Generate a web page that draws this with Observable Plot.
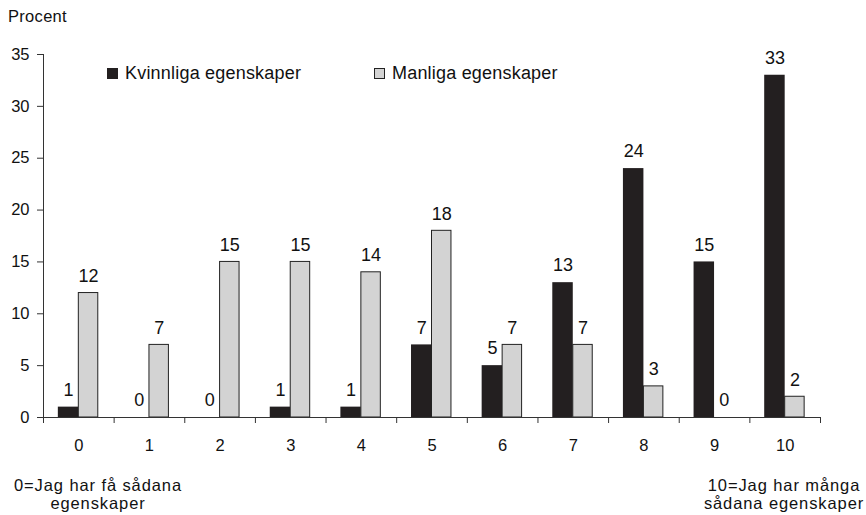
<!DOCTYPE html>
<html>
<head>
<meta charset="utf-8">
<script src="https://cdn.jsdelivr.net/npm/d3@7"></script>
<script src="https://cdn.jsdelivr.net/npm/@observablehq/plot@0.6"></script>
<style>
  html, body { margin: 0; padding: 0; background: #fff; }
  #wrap { position: relative; width: 866px; height: 515px; overflow: hidden; font-family: "Liberation Sans", Arial, sans-serif; color: #111; }
  #chart { position: absolute; left: 0; top: 0; }
  .lbl { position: absolute; white-space: nowrap; }
  .ylabel { left: 8px; top: 7px; font-size: 16.5px; letter-spacing: 0.3px; }
  .legend { top: 63px; font-size: 18px; letter-spacing: 0.2px; display: flex; align-items: center; }
  .sw { display: inline-block; width: 11px; height: 11px; margin-right: 7px; box-sizing: border-box; }
  .note { top: 476px; font-size: 16.5px; letter-spacing: 0.9px; line-height: 18px; text-align: center; transform: translateX(-50%); }
</style>
</head>
<body>
<div id="wrap">
  <div id="chart"></div>
</div>
<script>
// ---- data ----
const categories = [0, 1, 2, 3, 4, 5, 6, 7, 8, 9, 10];
const kvinnliga = [1, 0, 0, 1, 1, 7, 5, 13, 24, 15, 33];
const manliga = [12, 7, 15, 15, 14, 18, 7, 7, 3, 0, 2];
const seriesNames = ["Kvinnliga egenskaper", "Manliga egenskaper"];
const yTicks = [0, 5, 10, 15, 20, 25, 30, 35];
const yLabel = "Procent";
const noteLeft = ["0=Jag har få sådana", "egenskaper"];
const noteRight = ["10=Jag har många", "sådana egenskaper"];

// ---- styles ----
const BLACK = "#231f20";
const GRAY = "#d3d3d3";
const AXIS = "#333";
const W = 0.29; // bar width in category units

const rows = categories.flatMap((c, i) => [
  {cat: c, series: seriesNames[0], value: kvinnliga[i]},
  {cat: c, series: seriesNames[1], value: manliga[i]}
]);
const kRows = rows.filter(d => d.series === seriesNames[0]);
const mRows = rows.filter(d => d.series === seriesNames[1]);

const bounds = d3.range(-0.5, categories.length, 1);

const chart = Plot.plot({
  width: 866,
  height: 515,
  marginLeft: 43,
  marginRight: 46,
  marginTop: 54,
  marginBottom: 98,
  style: {fontFamily: "Liberation Sans, Arial, sans-serif", fontSize: "16.5px", color: "#111", background: "#fff"},
  x: {type: "linear", domain: [-0.5, categories.length - 0.5]},
  y: {domain: [0, 35]},
  marks: [
    // bars
    Plot.rectY(kRows.filter(d => d.value > 0), {x1: d => d.cat - W, x2: d => d.cat, y1: 0, y2: "value", fill: BLACK}),
    Plot.rectY(mRows.filter(d => d.value > 0), {x1: d => d.cat, x2: d => d.cat + W * 0.95, y1: 0, y2: "value", fill: GRAY, stroke: "#222", strokeWidth: 1}),
    // value labels
    Plot.text(kRows, {x: d => d.cat - W / 2, y: "value", text: d => String(d.value), dy: -17, fontSize: 18, fill: "#111"}),
    Plot.text(mRows, {x: d => d.cat + W * 0.95 / 2, y: "value", text: d => String(d.value), dy: -17, fontSize: 18, fill: "#111"}),
    // axis lines
    Plot.ruleY([0], {stroke: AXIS, strokeWidth: 1}),
    Plot.ruleX([-0.5], {y1: 0, y2: 35, stroke: AXIS, strokeWidth: 1}),
    // y axis
    Plot.axisY({ticks: yTicks, tickSize: 6, tickPadding: 8, label: null, stroke: AXIS, fill: "#111"}),
    // x axis boundary ticks
    Plot.axisX({ticks: bounds, tickSize: 6, tickFormat: () => "", label: null, stroke: AXIS}),
    // x axis labels
    Plot.axisX({ticks: categories, tickSize: 0, tickPadding: 22, tickFormat: d => String(d), label: null, fill: "#111"})
  ]
});
document.getElementById("chart").appendChild(chart);

const wrap = document.getElementById("wrap");
function addLabel(cls, html, left) {
  const el = document.createElement("div");
  el.className = "lbl " + cls;
  el.innerHTML = html;
  if (left != null) el.style.left = left + "px";
  wrap.appendChild(el);
  return el;
}
addLabel("ylabel", yLabel);
addLabel("legend", `<span class="sw" style="background:${BLACK}"></span>${seriesNames[0]}`, 107);
addLabel("legend", `<span class="sw" style="background:${GRAY};border:1px solid #222"></span>${seriesNames[1]}`, 374);
addLabel("note", noteLeft.join("<br>"), 98);
addLabel("note", noteRight.join("<br>"), 784);
</script>
</body>
</html>
